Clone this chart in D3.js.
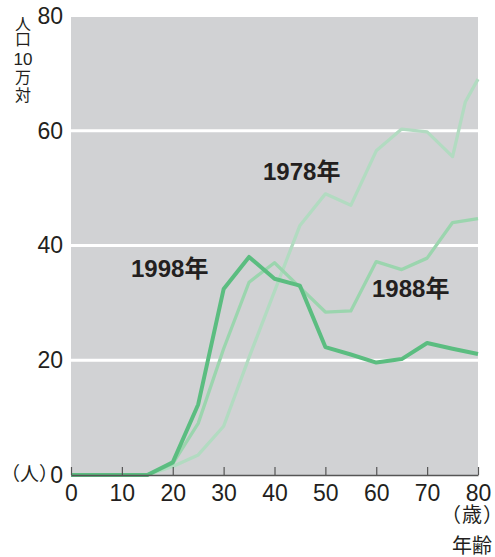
<!DOCTYPE html>
<html>
<head>
<meta charset="utf-8">
<script src="https://cdn.jsdelivr.net/npm/d3@7"></script>
<style>
  body { margin: 0; background: #fff; }
  svg { display: block; }
</style>
</head>
<body>
<svg id="chart"></svg>
<script>
const ages = [0, 5, 10, 15, 20, 25, 30, 35, 40, 45, 50, 55, 60, 65, 70, 75, 80];
const ages1978 = [0, 5, 10, 15, 20, 25, 30, 35, 40, 45, 50, 55, 60, 65, 70, 75, 77.5, 80];
const v1978 = [0, 0, 0, 0, 1.5, 3.5, 8.5, 20.5, 32, 43.5, 49, 47, 56.5, 60.3, 59.8, 55.5, 65, 69];
const v1988 = [0, 0, 0, 0, 2, 9, 22, 33.6, 37, 32.7, 28.4, 28.6, 37.2, 35.8, 37.8, 44, 44.7];
const v1998 = [0, 0, 0, 0, 2.2, 12.3, 32.4, 38, 34.2, 33, 22.3, 21, 19.6, 20.2, 23, 22, 21.1];
const yTicks = [0, 20, 40, 60, 80];
const xTicks = [0, 10, 20, 30, 40, 50, 60, 70, 80];
const gridVals = [20, 40, 60];

const W = 495, H = 557;
const margin = { left: 71, top: 16, right: 17, bottom: 82 };
const width = W - margin.left - margin.right;
const height = H - margin.top - margin.bottom;

const svg = d3.select("#chart").attr("width", W).attr("height", H)
    .attr("font-family", "'Liberation Sans', Arial, 'Noto Sans CJK JP', sans-serif");

const x = d3.scaleLinear().domain([0, 80]).range([0, width]);
const y = d3.scaleLinear().domain([0, 80]).range([height, 0]);

const g = svg.append("g").attr("transform", `translate(${margin.left},${margin.top})`);

// gray plot background
g.append("rect")
    .attr("x", 0).attr("y", 1)
    .attr("width", width).attr("height", height - 1)
    .attr("fill", "#d1d2d4");

// white gridlines
g.selectAll(".grid").data(gridVals).enter().append("line")
    .attr("x1", 0).attr("x2", width)
    .attr("y1", d => y(d)).attr("y2", d => y(d))
    .attr("stroke", "#fff").attr("stroke-width", 3);

// lines
const line = d3.line().x(d => x(d[0])).y(d => y(d[1]));
const series = [
    { ages: ages1978, vals: v1978, color: "#b2dbc1", w: 3.3 },
    { ages: ages, vals: v1988, color: "#9bd5ae", w: 3.3 },
    { ages: ages, vals: v1998, color: "#5bbd80", w: 4 }
];
series.forEach(s => {
    g.append("path")
        .datum(s.ages.map((a, i) => [a, s.vals[i]]))
        .attr("d", line)
        .attr("fill", "none")
        .attr("stroke", s.color)
        .attr("stroke-width", s.w)
        .attr("stroke-linejoin", "round");
});

// x axis
const xAxis = g.append("g")
    .attr("transform", `translate(0,${height})`)
    .call(d3.axisBottom(x).tickValues(xTicks).tickSizeInner(-8).tickSizeOuter(0).tickPadding(10));
xAxis.select(".domain").attr("stroke", "#555").attr("stroke-width", 1.5);
xAxis.selectAll(".tick line").attr("stroke", "#555").attr("stroke-width", 1.2);
xAxis.selectAll(".tick text")
    .attr("font-size", 23).attr("fill", "#231f20")
    .attr("font-family", "'Liberation Sans', Arial, sans-serif");

// y axis labels
const yAxis = g.append("g")
    .call(d3.axisLeft(y).tickValues(yTicks).tickSize(0).tickPadding(8));
yAxis.select(".domain").remove();
yAxis.selectAll(".tick text")
    .attr("font-size", 23).attr("fill", "#231f20")
    .attr("font-family", "'Liberation Sans', Arial, sans-serif");

// unit labels
const cjk = "'Noto Sans CJK JP', sans-serif";
svg.append("text")
    .attr("x", 1).attr("y", 481)
    .attr("font-size", 19).attr("fill", "#231f20")
    .attr("font-family", cjk)
    .text("（人）");

const yTitle = [
    { t: "人", y: 30, size: 16, font: cjk },
    { t: "口", y: 45, size: 16, font: cjk },
    { t: "10", y: 65, size: 17, font: "'Liberation Sans', Arial, sans-serif" },
    { t: "万", y: 83, size: 16, font: cjk },
    { t: "対", y: 101, size: 16, font: cjk }
];
svg.append("g").selectAll("text").data(yTitle).enter().append("text")
    .attr("x", 23)
    .attr("y", d => d.y)
    .attr("text-anchor", "middle")
    .attr("font-size", d => d.size).attr("fill", "#231f20")
    .attr("font-family", d => d.font)
    .text(d => d.t);

svg.append("text")
    .attr("x", 441).attr("y", 522)
    .attr("font-size", 20).attr("letter-spacing", 1).attr("fill", "#231f20")
    .attr("font-family", cjk)
    .text("（歳）");
svg.append("text")
    .attr("x", 452).attr("y", 553)
    .attr("font-size", 20).attr("fill", "#231f20")
    .attr("font-family", cjk)
    .text("年齢");

// series labels
const seriesLabels = [
    { text: "1978年", x: 263, y: 180 },
    { text: "1998年", x: 131, y: 277 },
    { text: "1988年", x: 372, y: 297 }
];
svg.append("g").selectAll("text").data(seriesLabels).enter().append("text")
    .attr("x", d => d.x).attr("y", d => d.y)
    .attr("font-size", 24).attr("font-weight", "bold").attr("fill", "#231f20")
    .attr("font-family", "'Liberation Sans', Arial, 'Noto Sans CJK JP', sans-serif")
    .text(d => d.text);
</script>
</body>
</html>
